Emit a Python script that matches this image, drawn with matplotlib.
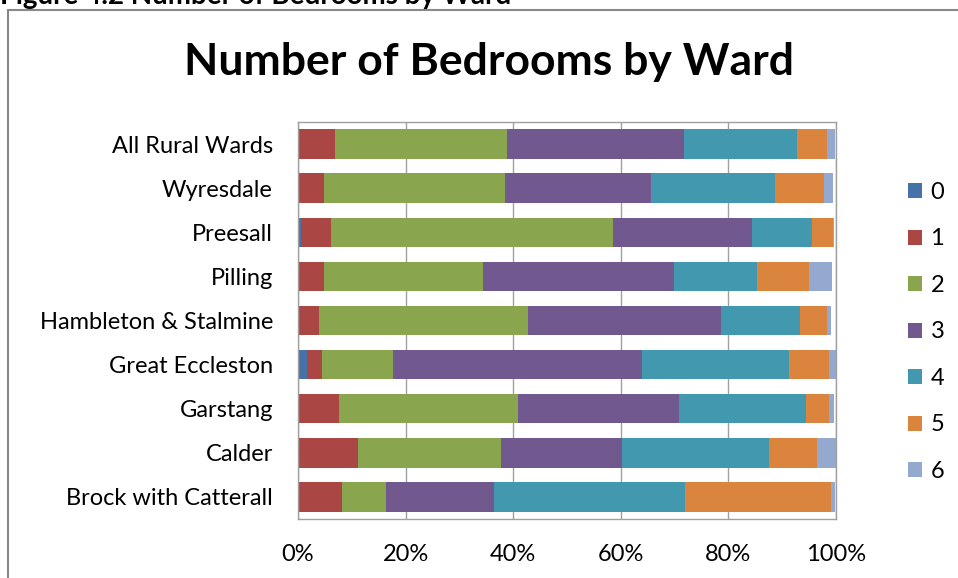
import matplotlib.pyplot as plt
from matplotlib.patches import Patch, Rectangle

plt.rcParams['font.family'] = ['Lato', 'DejaVu Sans']

# wards, top to bottom as in the chart
wards = ['All Rural Wards', 'Wyresdale', 'Preesall', 'Pilling',
         'Hambleton & Stalmine', 'Great Eccleston', 'Garstang', 'Calder',
         'Brock with Catterall']

# share of dwellings (%) by number of bedrooms
beds_0 = [0.0, 0.0, 0.5, 0.0, 0.0, 1.6, 0.0, 0.0, 0.0]
beds_1 = [6.8, 4.9, 5.7, 4.9, 3.9, 2.9, 7.6, 11.1, 8.2]
beds_2 = [32.1, 33.6, 52.3, 29.5, 38.8, 13.1, 33.2, 26.7, 8.1]
beds_3 = [32.8, 27.1, 25.8, 35.4, 36.0, 46.4, 30.1, 22.5, 20.2]
beds_4 = [21.0, 23.1, 11.3, 15.5, 14.7, 27.3, 23.6, 27.2, 35.5]
beds_5 = [5.7, 9.0, 3.8, 9.6, 4.9, 7.4, 4.2, 9.0, 27.1]
beds_6 = [1.5, 1.7, 0.2, 4.3, 0.8, 1.3, 0.9, 3.5, 0.8]

labels = ['0', '1', '2', '3', '4', '5', '6']
series = [beds_0, beds_1, beds_2, beds_3, beds_4, beds_5, beds_6]
colors = ['#4572A7', '#AA4643', '#89A54E', '#71588F', '#4198AF', '#DB843D', '#93A9CF']

fig = plt.figure(figsize=(9.58, 5.78), dpi=100)
ax = fig.add_axes([298/958, 1 - 519/578, 538/958, 397/578])

ypos = list(range(len(wards)))[::-1]
left = [0.0] * len(wards)
for vals, lab, col in zip(series, labels, colors):
    ax.barh(ypos, vals, left=left, height=0.67, color=col, label=lab, zorder=2)
    left = [a + b for a, b in zip(left, vals)]

ax.set_xlim(0, 100)
ax.set_ylim(-0.5, len(wards) - 0.5)
ax.set_xticks([0, 20, 40, 60, 80, 100])
ax.set_xticklabels(['0%', '20%', '40%', '60%', '80%', '100%'])
ax.set_yticks(ypos)
ax.set_yticklabels(wards)
ax.tick_params(axis='both', length=0, labelsize=17, colors='#000000')
ax.tick_params(axis='x', pad=18)
ax.tick_params(axis='y', pad=18)
ax.grid(axis='x', color='#a0a0a0', linewidth=1)
ax.set_axisbelow(True)
for s in ax.spines.values():
    s.set_color('#a0a0a0')
    s.set_linewidth(1)

handles = [Patch(facecolor=c, edgecolor='none') for c in colors]
fig.legend(handles, labels, loc='upper left', bbox_to_anchor=(908/958, 1 - 182/578),
           frameon=False, fontsize=17, handlelength=0.6, handleheight=0.6,
           handletextpad=0.35, labelspacing=1.08, borderaxespad=0, borderpad=0)

fig.text(489/958, 1 - 62/578, 'Number of Bedrooms by Ward', ha='center', va='center',
         fontsize=32, fontweight='bold')

# caption cut off at the top of the image
fig.text(0.0, 1 - 4/578, 'Figure 4.2 Number of Bedrooms by Ward', ha='left', va='baseline',
         fontsize=20, fontweight='bold')

# chart frame
fig.patches.append(Rectangle((8/958, -0.1), 1.1, 1 - 10/578 + 0.1, transform=fig.transFigure,
                             fill=False, edgecolor='#888888', linewidth=1.5))

fig.savefig('out.png', dpi=100)
